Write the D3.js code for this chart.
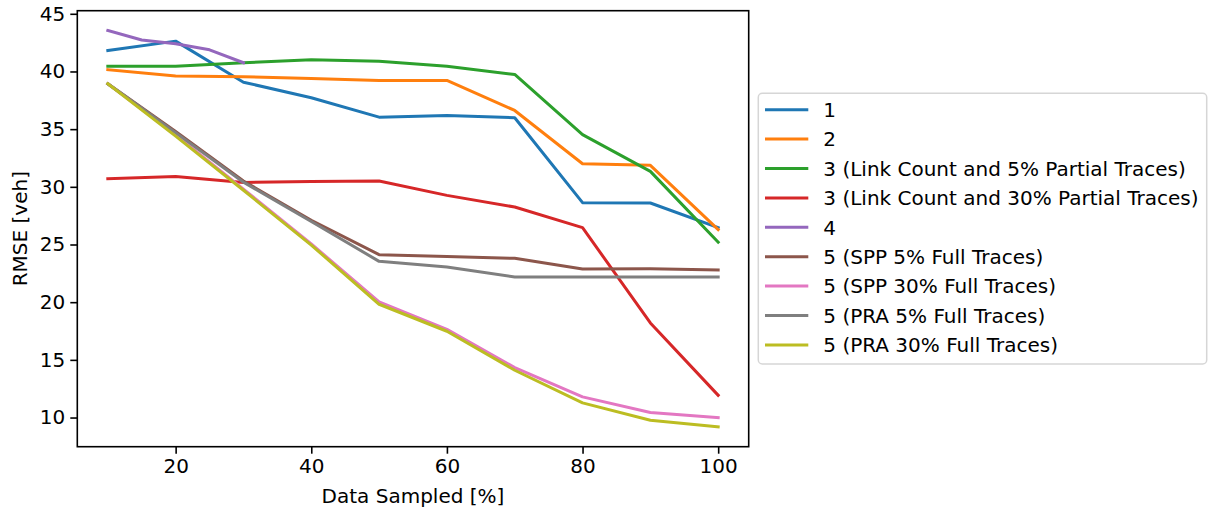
<!DOCTYPE html>
<html>
<head>
<meta charset="utf-8">
<script src="https://cdn.jsdelivr.net/npm/d3@7"></script>
<style>
  html, body { margin: 0; padding: 0; background: #fff; }
  svg { display: block; font-family: "DejaVu Sans", sans-serif; }
</style>
</head>
<body>
<svg id="chart" width="1209" height="515"></svg>
<script>
// ---- data ----
const xSampled = [10, 20, 30, 40, 50, 60, 70, 80, 90, 100];
const xMethod4 = [10, 15, 20, 25, 30];

const method1 = [41.82, 42.63, 39.07, 37.72, 36.04, 36.19, 35.99, 28.63, 28.60, 26.46];
const method2 = [40.15, 39.60, 39.54, 39.39, 39.22, 39.22, 36.62, 32.00, 31.86, 26.29];
const method3Partial5 = [40.46, 40.46, 40.76, 41.01, 40.89, 40.46, 39.74, 34.52, 31.34, 25.21];
const method3Partial30 = [30.70, 30.90, 30.38, 30.47, 30.50, 29.26, 28.25, 26.46, 18.20, 11.93];
const method4 = [43.55, 42.73, 42.40, 41.88, 40.76];
const method5Spp5 = [38.93, 34.80, 30.50, 27.10, 24.12, 23.97, 23.80, 22.88, 22.90, 22.80];
const method5Spp30 = [38.93, 34.50, 29.80, 25.05, 20.02, 17.65, 14.33, 11.79, 10.43, 10.00];
const method5Pra5 = [38.93, 34.70, 30.40, 27.00, 23.54, 23.05, 22.18, 22.18, 22.18, 22.18];
const method5Pra30 = [38.93, 34.40, 29.70, 24.95, 19.82, 17.48, 14.10, 11.27, 9.77, 9.19];

const seriesLabels = [
  "1", "2",
  "3 (Link Count and 5% Partial Traces)",
  "3 (Link Count and 30% Partial Traces)",
  "4",
  "5 (SPP 5% Full Traces)",
  "5 (SPP 30% Full Traces)",
  "5 (PRA 5% Full Traces)",
  "5 (PRA 30% Full Traces)"
];
const seriesX = [xSampled, xSampled, xSampled, xSampled, xMethod4, xSampled, xSampled, xSampled, xSampled];
const seriesY = [method1, method2, method3Partial5, method3Partial30, method4, method5Spp5, method5Spp30, method5Pra5, method5Pra30];

const xTicks = [20, 40, 60, 80, 100];
const yTicks = [10, 15, 20, 25, 30, 35, 40, 45];
const colors = ["#1f77b4", "#ff7f0e", "#2ca02c", "#d62728", "#9467bd", "#8c564b", "#e377c2", "#7f7f7f", "#bcbd22"];

// ---- layout ----
const svg = d3.select("#chart");
const plot = { left: 77.3, right: 748.7, top: 10.7, bottom: 446.7 };
const fontSize = 20;

const allY = seriesY.flat();
const yMin = d3.min(allY), yMax = d3.max(allY);
const yPad = (yMax - yMin) * 0.05;

const x = d3.scaleLinear().domain([5.5, 104.5]).range([plot.left, plot.right]);
const y = d3.scaleLinear().domain([yMin - yPad, yMax + yPad]).range([plot.bottom, plot.top]);

// lines
const clip = svg.append("clipPath").attr("id", "clip").append("rect")
  .attr("x", plot.left).attr("y", plot.top)
  .attr("width", plot.right - plot.left).attr("height", plot.bottom - plot.top);

const gLines = svg.append("g").attr("clip-path", "url(#clip)");
seriesY.forEach((vals, i) => {
  const pts = vals.map((v, j) => [seriesX[i][j], v]);
  gLines.append("path")
    .datum(pts)
    .attr("fill", "none")
    .attr("stroke", colors[i])
    .attr("stroke-width", 3)
    .attr("stroke-linejoin", "round")
    .attr("stroke-linecap", "square")
    .attr("d", d3.line().x(d => x(d[0])).y(d => y(d[1])));
});

// axes
const xAxis = d3.axisBottom(x).tickValues(xTicks).tickSize(7).tickPadding(5).tickFormat(d3.format("d"));
const yAxis = d3.axisLeft(y).tickValues(yTicks).tickSize(7).tickPadding(5).tickFormat(d3.format("d"));

const gx = svg.append("g").attr("transform", `translate(0,${plot.bottom})`).call(xAxis);
const gy = svg.append("g").attr("transform", `translate(${plot.left},0)`).call(yAxis);
[gx, gy].forEach(g => {
  g.select(".domain").remove();
  g.selectAll(".tick line").attr("stroke", "#000").attr("stroke-width", 1.6);
  g.selectAll(".tick text").attr("fill", "#000").style("font-size", fontSize + "px").style("font-family", "DejaVu Sans");
});

// frame
svg.append("rect")
  .attr("x", plot.left).attr("y", plot.top)
  .attr("width", plot.right - plot.left).attr("height", plot.bottom - plot.top)
  .attr("fill", "none").attr("stroke", "#000").attr("stroke-width", 1.6);

// axis labels
svg.append("text")
  .attr("x", (plot.left + plot.right) / 2).attr("y", 503)
  .attr("text-anchor", "middle").style("font-size", fontSize + "px")
  .text("Data Sampled [%]");
svg.append("text")
  .attr("transform", `translate(27,${(plot.top + plot.bottom) / 2}) rotate(-90)`)
  .attr("text-anchor", "middle").style("font-size", fontSize + "px")
  .text("RMSE [veh]");

// legend
const leg = svg.append("g");
leg.append("rect")
  .attr("x", 758.3).attr("y", 93.3).attr("width", 1206.7 - 758.3).attr("height", 364 - 93.3)
  .attr("rx", 4).attr("ry", 4)
  .attr("fill", "#fff").attr("fill-opacity", 0.8)
  .attr("stroke", "#d6d6d6").attr("stroke-width", 1.5);
seriesLabels.forEach((lab, i) => {
  const cy = 109.7 + i * 29.4;
  leg.append("line").attr("x1", 765).attr("x2", 808.3).attr("y1", cy).attr("y2", cy)
    .attr("stroke", colors[i]).attr("stroke-width", 3);
  leg.append("text").attr("x", 823.3).attr("y", cy + 7.3)
    .style("font-size", fontSize + "px").text(lab);
});
</script>
</body>
</html>
